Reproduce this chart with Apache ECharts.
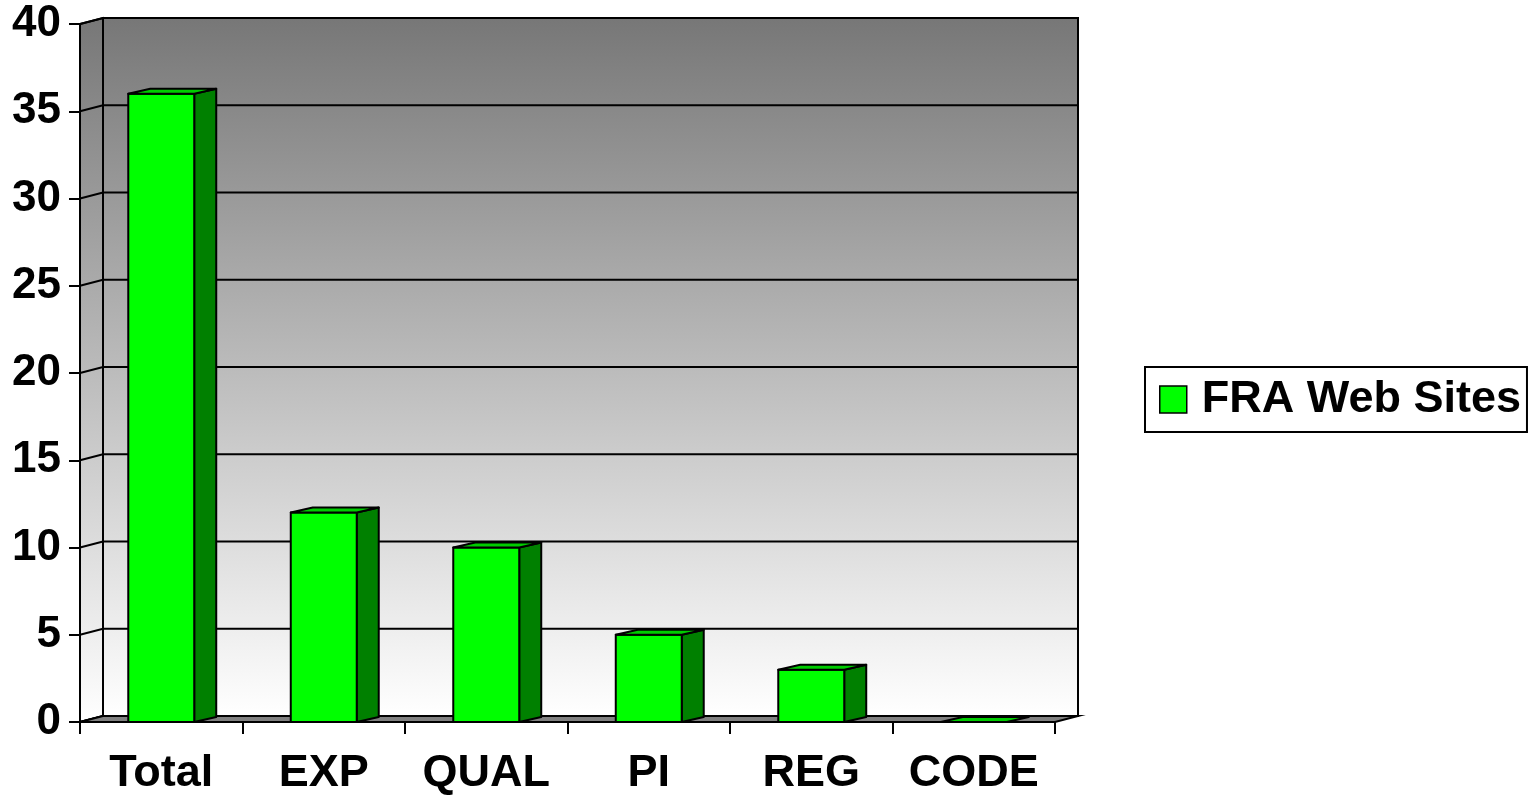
<!DOCTYPE html>
<html>
<head>
<meta charset="utf-8">
<script src="https://cdn.jsdelivr.net/npm/echarts@6/dist/echarts.min.js"></script>
<style>
html,body{margin:0;padding:0;background:#fff;}
#chart{width:1532px;height:796px;}
</style>
</head>
<body>
<div id="chart"></div>
<script>
const categories = ['Total', 'EXP', 'QUAL', 'PI', 'REG', 'CODE'];
const seriesName = 'FRA Web Sites';
const values = [36, 12, 10, 5, 3, 0];
const yTicks = [0, 5, 10, 15, 20, 25, 30, 35, 40];

const FONT = 'Liberation Sans, Arial, Helvetica, sans-serif';
const WALL_DX = 23, WALL_DY = -6;
const BAR_DX = 22, BAR_DY = -5;

const chart = echarts.init(document.getElementById('chart'), null, {renderer: 'canvas'});

function wallGradient(y0, y1) {
  return new echarts.graphic.LinearGradient(0, y0, 0, y1, [
    {offset: 0, color: '#777777'},
    {offset: 1, color: '#ffffff'}
  ], true);
}

function renderWalls(params, api) {
  const cs = params.coordSys;
  const t = api.value(1);
  const y = api.coord([0, t])[1];
  const xL = cs.x, xR = cs.x + cs.width;
  const yTop = cs.y, yBot = cs.y + cs.height;
  const children = [];
  if (params.dataIndex === 0) {
    const grad = wallGradient(yTop + WALL_DY, yBot + WALL_DY);
    children.push({
      type: 'rect',
      shape: {x: xL + WALL_DX, y: yTop + WALL_DY, width: cs.width, height: cs.height},
      style: {fill: grad, stroke: '#000', lineWidth: 2}
    });
    children.push({
      type: 'polygon',
      shape: {points: [[xL, yBot], [xL, yTop], [xL + WALL_DX, yTop + WALL_DY], [xL + WALL_DX, yBot + WALL_DY]]},
      style: {fill: wallGradient(yTop + WALL_DY, yBot), stroke: '#000', lineWidth: 2}
    });
  }
  children.push({
    type: 'polyline',
    shape: {points: [[xL, y], [xL + WALL_DX, y + WALL_DY], [xR + WALL_DX, y + WALL_DY]]},
    style: {stroke: '#000', lineWidth: 2, fill: null}
  });
  if (t === 0) {
    children.push({
      type: 'polygon',
      shape: {points: [[xL, yBot], [xL + WALL_DX, yBot + WALL_DY], [xR + WALL_DX, yBot + WALL_DY], [xR, yBot]]},
      style: {fill: '#808080', stroke: '#000', lineWidth: 2}
    });
  }
  return {type: 'group', children: children};
}

function renderBar(params, api) {
  const ci = api.value(0);
  const v = api.value(1);
  const base = api.coord([ci, 0]);
  const top = api.coord([ci, v]);
  const band = api.size([1, 0])[0];
  const w = band * 0.406;
  const x0 = base[0] - w / 2, x1 = base[0] + w / 2;
  const yb = base[1], yt = top[1];
  const stroke = {stroke: '#000', lineWidth: 2, lineJoin: 'round'};
  const children = [];
  if (v > 0) {
    children.push({
      type: 'polygon',
      shape: {points: [[x1, yt], [x1 + BAR_DX, yt + BAR_DY], [x1 + BAR_DX, yb + BAR_DY], [x1, yb]]},
      style: Object.assign({fill: '#008000'}, stroke)
    });
    children.push({
      type: 'rect',
      shape: {x: x0, y: yt, width: w, height: yb - yt},
      style: Object.assign({fill: '#00ff00'}, stroke)
    });
  }
  children.push({
    type: 'polygon',
    shape: {points: [[x0, yt], [x0 + BAR_DX, yt + BAR_DY], [x1 + BAR_DX, yt + BAR_DY], [x1, yt]]},
    style: Object.assign({fill: '#00cc00'}, stroke)
  });
  return {type: 'group', children: children};
}

const option = {
  animation: false,
  backgroundColor: '#ffffff',
  grid: {left: 80, top: 24, width: 975, height: 700, containLabel: false},
  legend: {
    left: 1145, top: 367,
    orient: 'vertical',
    data: [seriesName],
    icon: 'rect',
    itemWidth: 27, itemHeight: 27,
    borderColor: '#000', borderWidth: 2,
    padding: [10, 6, 10, 14],
    itemStyle: {color: '#00ff00', borderColor: '#000', borderWidth: 1.5},
    textStyle: {fontFamily: FONT, fontWeight: 'bold', fontSize: 45, color: '#000', padding: [0, 0, 0, 10]}
  },
  xAxis: {
    type: 'category',
    data: categories,
    boundaryGap: true,
    axisLine: {show: true, lineStyle: {color: '#000', width: 2}},
    axisTick: {show: true, interval: 0, length: 12, lineStyle: {color: '#000', width: 2}},
    axisLabel: {interval: 0, hideOverlap: false, fontFamily: FONT, fontWeight: 'bold', fontSize: 45, color: '#000', margin: 29},
    splitLine: {show: false}
  },
  yAxis: {
    type: 'value',
    min: 0, max: 40, interval: 5,
    axisLine: {show: true, lineStyle: {color: '#000', width: 2}},
    axisTick: {show: true, length: 11, lineStyle: {color: '#000', width: 2}},
    axisLabel: {fontFamily: FONT, fontWeight: 'bold', fontSize: 44, color: '#000', margin: 19,
      formatter: function (v) { return yTicks.indexOf(v) >= 0 ? String(v) : ''; }},
    splitLine: {show: false}
  },
  series: [
    {
      type: 'custom',
      name: 'walls',
      z: 1,
      silent: true,
      renderItem: renderWalls,
      data: yTicks.map(function (t) { return [0, t]; }),
      encode: {x: 0, y: 1}
    },
    {
      type: 'custom',
      name: seriesName,
      z: 3,
      renderItem: renderBar,
      itemStyle: {color: '#00ff00', borderColor: '#000'},
      data: values.map(function (v, i) { return [i, v]; }),
      encode: {x: 0, y: 1}
    }
  ]
};
chart.setOption(option);
</script>
</body>
</html>
